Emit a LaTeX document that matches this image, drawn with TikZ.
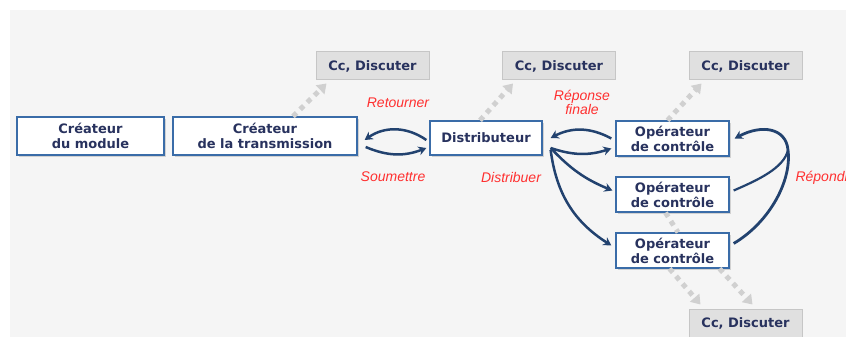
\documentclass[tikz,border=0pt]{standalone}
\usepackage{fontspec}
\newfontfamily\boxfont{DejaVu Sans}
\newfontfamily\verbfont{Liberation Sans}
\usetikzlibrary{arrows.meta, shadows}

\definecolor{boxblue}{HTML}{3A6CA8}
\definecolor{boxtext}{HTML}{28325E}
\definecolor{flowblue}{HTML}{22426F}
\definecolor{ccgray}{HTML}{E0E0E0}
\definecolor{ccborder}{HTML}{C6C6C6}
\definecolor{dotgray}{HTML}{D0D0D0}
\definecolor{verbred}{HTML}{FF3030}
\definecolor{panel}{HTML}{F5F5F5}

\tikzset{
  role/.style={draw=boxblue, line width=1.3pt, fill=white, align=center,
    inner sep=0pt, text=boxtext,
    font=\boxfont\bfseries\fontsize{13}{15}\selectfont,
    drop shadow={shadow xshift=1.5pt, shadow yshift=-1.5pt, opacity=0.3}},
  ccbox/.style={draw=ccborder, line width=1pt, fill=ccgray, inner sep=0pt,
    minimum width=113pt, minimum height=28pt, text=boxtext,
    font=\boxfont\bfseries\fontsize{13}{15}\selectfont},
  flow/.style={draw=flowblue, line width=2.5pt, -{Stealth[length=8pt,width=9pt]}},
  cclink/.style={draw=dotgray, line width=5pt, dash pattern=on 5pt off 5pt,
    -{Triangle[length=9pt,width=12pt]}},
  verb/.style={text=verbred, font=\verbfont\itshape\fontsize{14}{13}\selectfont, align=center}
}

\begin{document}
\begin{tikzpicture}[x=1pt, y=-1pt]
    % Page and grey panel
    \useasboundingbox (0,0) rectangle (846,337);
    \fill[panel] (10,10) rectangle (846,337);

    % Roles in the chain
    \node[role, minimum width=147pt, minimum height=38pt] (createur) at (90.5,136) {Créateur\\du module};
    \node[role, minimum width=184pt, minimum height=38pt] (transm) at (265,136) {Créateur\\de la transmission};
    \node[role, minimum width=112pt, minimum height=34pt] (distrib) at (486,138) {Distributeur};
    \node[role, minimum width=113pt, minimum height=35pt] (op1) at (672.5,138.5) {Opérateur\\de contrôle};
    \node[role, minimum width=113pt, minimum height=35pt] (op2) at (672.5,194.5) {Opérateur\\de contrôle};
    \node[role, minimum width=113pt, minimum height=35pt] (op3) at (672.5,250.5) {Opérateur\\de contrôle};

    % Copy / discussion boxes
    \node[ccbox] (cc1) at (372.5,66) {Cc, Discuter};
    \node[ccbox] (cc2) at (559,66) {Cc, Discuter};
    \node[ccbox] (cc3) at (745.5,66) {Cc, Discuter};
    \node[ccbox] (cc4) at (745.5,323) {Cc, Discuter};

    % Dotted links to the Cc boxes
    \draw[cclink] ([xshift=28pt]transm.north) -- ([xshift=-46pt,yshift=-3pt]cc1.south);
    \draw[cclink] ([xshift=-6pt]distrib.north) -- ([xshift=-46pt,yshift=-3pt]cc2.south);
    \draw[cclink] ([xshift=-5pt]op1.north) -- ([xshift=-44pt,yshift=-3pt]cc3.south);
    \draw[cclink, -] ([xshift=-7pt]op2.south) -- ([xshift=5.5pt]op3.north);
    \draw[cclink] ([xshift=-3pt]op3.south) -- ([xshift=-45pt,yshift=4pt]cc4.north);
    \draw[cclink] ([xshift=47pt]op3.south) -- ([xshift=7pt,yshift=4pt]cc4.north);

    % Submit and return
    \draw[flow] ([xshift=-3pt,yshift=-2pt]distrib.west) to[bend right=35] ([xshift=7pt,yshift=-4pt]transm.east);
    \draw[flow] ([xshift=8pt,yshift=-11pt]transm.east) to[bend right=22] ([xshift=-3pt,yshift=-10pt]distrib.west);
    \node[verb] (retourner) at (398,103) {Retourner};
    \node[verb] (soumettre) at (393,177) {Soumettre};

    % Distribution to the operators
    \draw[flow] ([xshift=-4pt]op1.west) to[bend right=28] ([xshift=8pt]distrib.east);
    \draw[flow] ([xshift=8pt,yshift=-10pt]distrib.east) to[bend right=18] ([xshift=-4pt,yshift=-10pt]op1.west);
    \draw[flow] ([xshift=8pt,yshift=-10pt]distrib.east) to[bend right=12] ([xshift=-3pt,yshift=4pt]op2.west);
    \draw[flow] ([xshift=8pt,yshift=-12pt]distrib.east) to[bend right=25] ([xshift=-4pt,yshift=5pt]op3.west);
    \node[verb] (finale) at (582,102) {Réponse\\finale};
    \node[verb] (distribuer) at (511,177) {Distribuer};

    % Answers going back up
    \coordinate (join) at (788,150);
    \draw[flow, line width=2.8pt] ([xshift=4pt,yshift=7pt]op3.east) .. controls (770,222) and (792,180) .. (join)
        .. controls (786,128) and (762,124) .. ([xshift=5pt]op1.east);
    \draw[flow, -, line width=2.2pt] ([xshift=4pt,yshift=4pt]op2.east) .. controls (758,180) and (784,168) .. (join);
    \node[verb, anchor=west] (repondre) at (792,178) {Répondre};
\end{tikzpicture}
\end{document}
